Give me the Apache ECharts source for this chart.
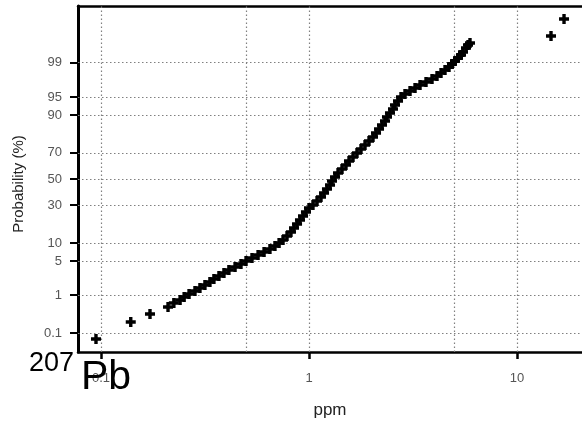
<!DOCTYPE html>
<html>
<head>
<meta charset="utf-8">
<script src="https://cdn.jsdelivr.net/npm/echarts@6/dist/echarts.min.js"></script>
<style>html,body{margin:0;padding:0;background:#fff}#c{width:582px;height:428px}</style>
</head>
<body>
<div id="c"></div>
<script>
// ppm values (sorted)
var ppmValues = [0.0946,0.139,0.172,0.210,0.224,0.240,0.251,0.265,0.283,0.299,0.316,0.334,0.349,0.369,0.390,0.412,0.441,0.471,0.498,0.532,0.569,0.608,0.649,0.686,0.718,0.750,0.784,0.819,0.847,0.876,0.905,0.936,0.967,1.000,1.045,1.093,1.142,1.181,1.220,1.262,1.290,1.334,1.379,1.441,1.506,1.557,1.628,1.701,1.778,1.859,1.943,2.031,2.100,2.171,2.244,2.320,2.371,2.451,2.534,2.591,2.679,2.769,2.894,3.060,3.234,3.418,3.652,3.903,4.125,4.312,4.507,4.711,4.870,5.034,5.204,5.380,5.500,5.686,5.813,5.943,14.57,16.83];
// cumulative probability (%) of each point
var probValues = [0.067,0.208,0.342,0.516,0.648,0.766,0.902,1.059,1.241,1.448,1.683,1.950,2.253,2.595,2.979,3.408,3.887,4.428,5.018,5.671,6.388,7.174,8.031,8.964,9.98,11.08,12.67,14.41,16.31,18.35,20.56,22.93,25.43,28.06,30.12,32.96,35.91,38.94,42.07,45.22,48.40,51.60,54.78,57.93,61.06,64.09,67.04,69.88,72.61,75.21,77.69,80.01,82.17,84.18,86.04,87.74,89.29,90.70,91.97,93.10,94.10,94.98,95.57,96.11,96.59,97.02,97.40,97.75,98.05,98.32,98.55,98.76,98.94,99.10,99.23,99.35,99.454,99.567,99.637,99.679,99.792,99.933];
var yTickProbs = [0.1,1,5,10,30,50,70,90,95,99];
var yTickLabels = ['0.1','1','5','10','30','50','70','90','95','99'];
var xTickPpm = [0.1,1,10];
var xTickLabels = ['0.1','1','10'];
var xGridPpm = [0.1,0.5,1,5,10];

function probit(p){
  var a=[-3.969683028665376e+01,2.209460984245205e+02,-2.759285104469687e+02,1.383577518672690e+02,-3.066479806614716e+01,2.506628277459239e+00];
  var b=[-5.447609879822406e+01,1.615858368580409e+02,-1.556989798598866e+02,6.680131188771972e+01,-1.328068155288572e+01];
  var c=[-7.784894002430293e-03,-3.223964580411365e-01,-2.400758277161838e+00,-2.549732539343734e+00,4.374664141464968e+00,2.938163982698783e+00];
  var d=[7.784695709041462e-03,3.224671290700398e-01,2.445134137142996e+00,3.754408661907416e+00];
  var pl=0.02425,q,r;
  if(p<pl){q=Math.sqrt(-2*Math.log(p));return (((((c[0]*q+c[1])*q+c[2])*q+c[3])*q+c[4])*q+c[5])/((((d[0]*q+d[1])*q+d[2])*q+d[3])*q+1);}
  if(p>1-pl){q=Math.sqrt(-2*Math.log(1-p));return -(((((c[0]*q+c[1])*q+c[2])*q+c[3])*q+c[4])*q+c[5])/((((d[0]*q+d[1])*q+d[2])*q+d[3])*q+1);}
  q=p-0.5;r=q*q;
  return (((((a[0]*r+a[1])*r+a[2])*r+a[3])*r+a[4])*r+a[5])*q/(((((b[0]*r+b[1])*r+b[2])*r+b[3])*r+b[4])*r+1);
}
var lg = function(v){return Math.log(v)/Math.LN10;};
var pts = ppmValues.map(function(v,i){return [lg(v), probit(probValues[i]/100)];});
var yTickZ = yTickProbs.map(function(p){return probit(p/100);});
var xTickL = xTickPpm.map(lg);
function nearestLabel(v, arr, labels){
  for(var i=0;i<arr.length;i++){ if(Math.abs(arr[i]-v)<1e-6) return labels[i]; }
  return '';
}
var font = "'Liberation Sans', Arial, sans-serif";
var gridStyle = {color:'#808080', type:[1.5,2.5], width:1.2};
var markData = xGridPpm.map(function(v){return {xAxis: lg(v)};}).concat(yTickZ.map(function(z){return {yAxis: z};}));
var plus = 'path://M3.3,0H6.7V3.3H10V6.7H6.7V10H3.3V6.7H0V3.3H3.3Z';
var X_MIN = -1.1106, X_MAX = 1.3125;

var chart = echarts.init(document.getElementById('c'), null, {renderer:'canvas'});
chart.setOption({
  animation:false,
  backgroundColor:'#fff',
  grid:{left:78, top:6, right:0, bottom:76, show:false},
  xAxis:[{
    type:'value', min:X_MIN, max:X_MAX, position:'bottom',
    axisLine:{show:true, onZero:false, lineStyle:{color:'#000', width:2.5}},
    axisTick:{show:true, customValues:xTickL, length:7, lineStyle:{color:'#000', width:2.5}},
    axisLabel:{show:true, customValues:xTickL, margin:20, color:'#555', fontSize:13, fontFamily:font,
      formatter:function(v){return nearestLabel(v, xTickL, xTickLabels);}},
    splitLine:{show:false}
  },{
    type:'value', min:X_MIN, max:X_MAX, position:'top',
    axisLine:{show:true, onZero:false, lineStyle:{color:'#000', width:2.5}},
    axisTick:{show:false}, axisLabel:{show:false}, splitLine:{show:false}
  }],
  yAxis:{
    type:'value', min:-3.467, max:3.467,
    axisLine:{show:true, onZero:false, lineStyle:{color:'#000', width:3}},
    axisTick:{show:true, customValues:yTickZ, length:8, lineStyle:{color:'#000', width:2}},
    axisLabel:{show:true, customValues:yTickZ, margin:16, color:'#555', fontSize:13, fontFamily:font,
      formatter:function(v){return nearestLabel(v, yTickZ, yTickLabels);}},
    splitLine:{show:false}
  },
  series:[
    {type:'scatter', data:[], silent:true, z:1,
      markLine:{silent:true, symbol:['none','none'], label:{show:false}, lineStyle:gridStyle, animation:false, data:markData}},
    {type:'scatter', data:pts, symbol:plus, symbolSize:10, z:5, silent:true,
      itemStyle:{color:'#000', opacity:1}}
  ],
  graphic:[
    {type:'text', x:19, y:184, rotation:Math.PI/2, z:100,
      style:{text:'Probability (%)', fill:'#222', font:'15px '+font, textAlign:'center', textVerticalAlign:'middle'}},
    {type:'text', x:330, y:410, z:100,
      style:{text:'ppm', fill:'#222', font:'17px '+font, textAlign:'center', textVerticalAlign:'middle'}},
    {type:'text', x:29, y:377, z:100,
      style:{text:'207', fill:'#000', font:'27px '+font, textAlign:'left', textVerticalAlign:'bottom'}},
    {type:'text', x:81, y:398, z:100,
      style:{text:'Pb', fill:'#000', font:'41px '+font, textAlign:'left', textVerticalAlign:'bottom'}}
  ]
});
</script>
</body>
</html>
